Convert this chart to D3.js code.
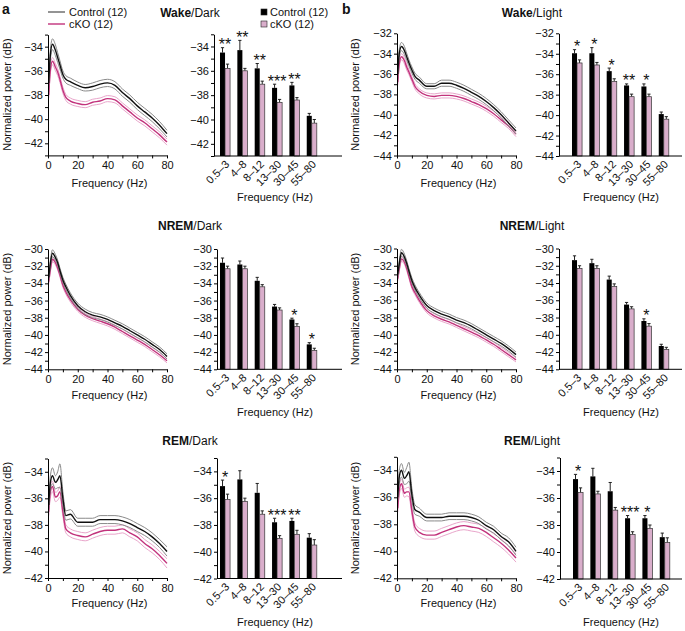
<!DOCTYPE html>
<head>
<meta charset="utf-8">
<script src="https://d3js.org/d3.v7.min.js"></script>
<style>
  body { margin:0; background:#fff; }
  text { font-family: Arial, "Liberation Sans", sans-serif; fill:#111; }
</style>
</head>
<body>
<script>

// frequency grid of the spectra (Hz)
var freqHz = [0.5, 1.5, 3, 5, 6.5, 8, 10, 12, 15, 20, 25, 30, 35, 40, 45, 50, 55, 60, 65, 70, 75, 80];

// spectra, mean and SEM (dB)
var wakeDarkCtrl    = [-37.0,-34.8,-33.8,-34.3,-34.9,-35.5,-36.3,-36.7,-36.9,-37.2,-37.4,-37.3,-37.1,-37.0,-37.2,-37.8,-38.3,-38.9,-39.4,-39.9,-40.5,-41.2];
var wakeDarkCtrlSem = [0.3,0.4,0.45,0.45,0.4,0.35,0.3,0.3,0.3,0.27,0.27,0.3,0.3,0.3,0.3,0.3,0.3,0.3,0.3,0.3,0.3,0.28];
var wakeDarkCko     = [-38.0,-36.0,-35.2,-35.7,-36.1,-36.7,-37.6,-38.2,-38.5,-38.7,-38.8,-38.6,-38.5,-38.3,-38.4,-38.9,-39.4,-39.9,-40.3,-40.8,-41.3,-41.9];
var wakeDarkCkoSem  = [0.25,0.3,0.3,0.3,0.28,0.25,0.25,0.25,0.25,0.25,0.25,0.25,0.25,0.25,0.25,0.25,0.25,0.25,0.25,0.25,0.25,0.25];

var wakeLightCtrl    = [-36.0,-34.0,-33.3,-33.7,-34.3,-34.9,-35.6,-36.2,-36.6,-37.2,-37.2,-36.9,-36.9,-37.1,-37.4,-37.8,-38.2,-38.7,-39.3,-40.0,-40.8,-41.6];
var wakeLightCtrlSem = [0.3,0.4,0.4,0.4,0.35,0.3,0.3,0.3,0.3,0.25,0.25,0.3,0.3,0.3,0.3,0.3,0.3,0.3,0.3,0.3,0.3,0.3];
var wakeLightCko     = [-36.8,-35.0,-34.3,-34.7,-35.3,-35.8,-36.5,-37.2,-37.7,-38.1,-38.2,-38.1,-38.1,-38.2,-38.4,-38.7,-39.0,-39.4,-39.9,-40.5,-41.1,-41.9];
var wakeLightCkoSem  = [0.3,0.3,0.3,0.3,0.3,0.25,0.25,0.25,0.25,0.25,0.25,0.25,0.25,0.25,0.25,0.25,0.25,0.25,0.25,0.25,0.25,0.25];

var nremDarkCtrl    = [-33.3,-31.8,-30.5,-31.0,-31.6,-32.5,-33.6,-34.4,-35.4,-36.6,-37.3,-37.7,-37.9,-38.2,-38.6,-39.0,-39.5,-40.0,-40.5,-41.1,-41.7,-42.5];
var nremDarkCtrlSem = [0.3,0.35,0.4,0.35,0.3,0.3,0.3,0.3,0.3,0.3,0.3,0.3,0.3,0.3,0.3,0.3,0.3,0.3,0.3,0.3,0.3,0.3];
var nremDarkCko     = [-33.8,-32.5,-31.2,-31.6,-32.2,-33.0,-34.2,-35.0,-35.9,-37.0,-37.7,-38.1,-38.4,-38.7,-39.1,-39.6,-40.1,-40.6,-41.1,-41.7,-42.3,-43.0];
var nremDarkCkoSem  = [0.25,0.25,0.3,0.25,0.25,0.25,0.25,0.25,0.25,0.25,0.25,0.25,0.25,0.25,0.25,0.25,0.25,0.25,0.25,0.25,0.25,0.25];

var nremLightCtrl    = [-33.0,-31.8,-30.5,-31.0,-31.7,-32.6,-33.7,-34.5,-35.4,-36.6,-37.2,-37.6,-37.9,-38.3,-38.6,-39.0,-39.5,-40.0,-40.5,-41.0,-41.6,-42.3];
var nremLightCtrlSem = [0.3,0.35,0.4,0.35,0.3,0.3,0.3,0.3,0.3,0.3,0.3,0.3,0.3,0.3,0.3,0.3,0.3,0.3,0.3,0.3,0.3,0.3];
var nremLightCko     = [-33.5,-32.4,-31.2,-31.6,-32.3,-33.2,-34.4,-35.1,-36.0,-37.2,-37.8,-38.2,-38.5,-38.9,-39.3,-39.7,-40.1,-40.6,-41.1,-41.7,-42.3,-42.9];
var nremLightCkoSem  = [0.25,0.25,0.3,0.25,0.25,0.25,0.25,0.25,0.25,0.25,0.25,0.25,0.25,0.25,0.25,0.25,0.25,0.25,0.25,0.25,0.25,0.25];

var remDarkCtrl    = [-36.5,-34.9,-34.3,-34.8,-34.6,-34.3,-36.0,-37.3,-37.2,-37.8,-37.8,-37.8,-37.6,-37.6,-37.6,-37.7,-37.9,-38.2,-38.5,-38.9,-39.4,-40.0];
var remDarkCtrlSem = [0.3,0.5,0.6,0.5,0.6,0.9,0.5,0.35,0.35,0.3,0.3,0.3,0.3,0.3,0.3,0.3,0.3,0.3,0.3,0.3,0.3,0.35];
var remDarkCko     = [-37.0,-35.6,-35.1,-35.9,-35.8,-35.5,-37.0,-38.3,-38.6,-38.8,-38.9,-38.7,-38.5,-38.4,-38.4,-38.3,-38.6,-38.9,-39.4,-39.8,-40.3,-40.9];
var remDarkCkoSem  = [0.3,0.4,0.4,0.35,0.35,0.4,0.35,0.3,0.3,0.3,0.3,0.3,0.3,0.3,0.3,0.3,0.3,0.3,0.3,0.3,0.3,0.35];

var remLightCtrl    = [-36.0,-34.5,-34.0,-34.6,-34.4,-34.1,-35.8,-36.9,-37.1,-37.5,-37.5,-37.5,-37.4,-37.4,-37.4,-37.5,-37.7,-38.1,-38.4,-38.9,-39.3,-40.0];
var remLightCtrlSem = [0.3,0.5,0.5,0.45,0.6,0.7,0.45,0.35,0.3,0.25,0.25,0.25,0.25,0.25,0.25,0.25,0.25,0.25,0.25,0.25,0.3,0.3];
var remLightCko     = [-36.8,-35.5,-35.0,-35.7,-35.6,-35.6,-37.0,-38.2,-38.6,-38.8,-38.8,-38.6,-38.4,-38.2,-38.1,-38.2,-38.3,-38.6,-39.0,-39.4,-39.9,-40.5];
var remLightCkoSem  = [0.3,0.35,0.35,0.3,0.3,0.35,0.3,0.3,0.3,0.3,0.3,0.3,0.3,0.3,0.3,0.3,0.3,0.3,0.3,0.3,0.3,0.3];

// band averages (dB), SEM and significance
var bandLabels = ["0.5\u20133", "4\u20138", "8\u201312", "13\u201330", "30\u201345", "55\u201380"];

var wakeDarkBarCtrl = [-34.5,-34.3,-35.8,-37.4,-37.2,-39.7], wakeDarkBarCtrlSem = [0.4,0.8,0.4,0.3,0.25,0.2];
var wakeDarkBarCko  = [-35.8,-36.0,-37.1,-38.6,-38.4,-40.3], wakeDarkBarCkoSem  = [0.35,0.2,0.25,0.25,0.2,0.3];
var wakeDarkStars   = ["**","**","**","***","**",""];

var wakeLightBarCtrl = [-33.95,-33.95,-35.7,-37.1,-37.2,-39.9], wakeLightBarCtrlSem = [0.35,0.55,0.3,0.15,0.25,0.2];
var wakeLightBarCko  = [-34.9,-35.1,-36.7,-38.2,-38.2,-40.4],   wakeLightBarCkoSem  = [0.3,0.25,0.25,0.25,0.25,0.25];
var wakeLightStars   = ["*","*","*","**","*",""];

var nremDarkBarCtrl = [-31.6,-31.8,-33.7,-36.7,-38.2,-41.1], nremDarkBarCtrlSem = [0.55,0.4,0.4,0.25,0.15,0.2];
var nremDarkBarCko  = [-32.3,-32.3,-34.4,-37.1,-39.0,-41.8], nremDarkBarCkoSem  = [0.3,0.3,0.25,0.25,0.3,0.25];
var nremDarkStars   = ["","","","","*","*"];

var nremLightBarCtrl = [-31.35,-31.7,-33.6,-36.5,-38.4,-41.3], nremLightBarCtrlSem = [0.5,0.45,0.4,0.25,0.25,0.2];
var nremLightBarCko  = [-32.3,-32.3,-34.4,-37.0,-39.0,-41.7],  nremLightBarCkoSem  = [0.3,0.3,0.3,0.25,0.3,0.25];
var nremLightStars   = ["","","","","*",""];

var remDarkBarCtrl = [-35.1,-34.6,-35.6,-37.8,-37.7,-38.95], remDarkBarCtrlSem = [0.45,0.65,0.7,0.3,0.2,0.3];
var remDarkBarCko  = [-36.1,-36.25,-37.2,-39.0,-38.7,-39.5], remDarkBarCkoSem  = [0.4,0.25,0.25,0.2,0.3,0.4];
var remDarkStars   = ["*","","","***","**",""];

var remLightBarCtrl = [-34.6,-34.4,-35.5,-37.5,-37.5,-38.9],  remLightBarCtrlSem = [0.35,0.6,0.65,0.2,0.2,0.3];
var remLightBarCko  = [-35.6,-35.7,-36.9,-38.7,-38.25,-39.3], remLightBarCkoSem  = [0.35,0.2,0.2,0.2,0.25,0.35];
var remLightStars   = ["*","","","***","*",""];

var W = 685, H = 631;
var svg = d3.select("body").append("svg").attr("width", W).attr("height", H);

var fmt = d3.format("d");
var ctrlColor = "#111", ctrlSemColor = "#8a8a8a", ckoColor = "#c2327c", ckoSemColor = "#e9a6cb";
var barCko = "#d9aecb";

function styleAxis(sel) {
  sel.selectAll("path").attr("stroke", "#000").attr("stroke-width", 1);
  sel.selectAll("line").attr("stroke", "#000");
  sel.selectAll("text").attr("font-size", 11).attr("fill", "#222");
}

function yAxisLabel(xPos, yCenter) {
  svg.append("text")
    .attr("transform", "translate(" + xPos + "," + yCenter + ") rotate(-90)")
    .attr("text-anchor", "middle").attr("font-size", 11)
    .text("Normalized power (dB)");
}

function drawLine(c) {
  var x = d3.scaleLinear().domain([0, 80]).range([c.x0, c.x1]);
  var y = d3.scaleLinear().domain(c.dom).range([c.yBot, c.yTop]);
  var g = svg.append("g");

  var line = d3.line()
    .x(function(d, i) { return x(freqHz[i]); })
    .y(function(d) { return y(d); })
    .curve(d3.curveMonotoneX);

  function series(mean, sem, col, semCol, w) {
    var up = mean.map(function(v, i) { return v + sem[i]; });
    var lo = mean.map(function(v, i) { return v - sem[i]; });
    g.append("path").datum(up).attr("d", line).attr("fill", "none").attr("stroke", semCol).attr("stroke-width", 1);
    g.append("path").datum(lo).attr("d", line).attr("fill", "none").attr("stroke", semCol).attr("stroke-width", 1);
    g.append("path").datum(mean).attr("d", line).attr("fill", "none").attr("stroke", col).attr("stroke-width", w);
  }
  series(c.cko, c.ckoSem, ckoColor, ckoSemColor, 1.4);
  series(c.ctrl, c.ctrlSem, ctrlColor, ctrlSemColor, 1.4);

  g.append("g").attr("transform", "translate(" + c.x0 + ",0)")
    .call(d3.axisLeft(y).tickValues(d3.range(c.dom[0], c.dom[1] + 1))
      .tickFormat(function(d) { return d % 2 === 0 ? fmt(d) : ""; })
      .tickSize(3).tickSizeOuter(0).tickPadding(2))
    .call(styleAxis);

  g.append("g").attr("transform", "translate(0," + c.yBot + ")")
    .call(d3.axisBottom(x).tickValues(d3.range(0, 81, 10))
      .tickFormat(function(d) { return d % 20 === 0 ? d : ""; })
      .tickSize(3).tickSizeOuter(0).tickPadding(3))
    .call(styleAxis);

  g.append("text").attr("x", (c.x0 + c.x1) / 2 + 2).attr("y", c.labelY)
    .attr("text-anchor", "middle").attr("font-size", 11).text("Frequency (Hz)");
}

function drawBars(c) {
  var y = d3.scaleLinear().domain(c.dom).range([c.yBot, c.yTop]);
  var step = 17.35, pad = 0.42;
  var xb = d3.scaleBand().domain(bandLabels)
    .range([c.bx0, c.bx0 + step * (bandLabels.length - pad)])
    .paddingInner(pad).paddingOuter(0);
  var xi = d3.scaleBand().domain(["ctrl", "cko"]).range([0, xb.bandwidth()]);
  var g = svg.append("g");

  var rows = bandLabels.map(function(b, i) {
    return { band: b, ctrl: c.ctrl[i], ctrlSem: c.ctrlSem[i], cko: c.cko[i], ckoSem: c.ckoSem[i], star: c.stars[i] };
  });

  ["ctrl", "cko"].forEach(function(k) {
    var semKey = k + "Sem";
    g.selectAll(".err-" + k).data(rows).enter().append("line")
      .attr("x1", function(d) { return xb(d.band) + xi(k) + xi.bandwidth() / 2; })
      .attr("x2", function(d) { return xb(d.band) + xi(k) + xi.bandwidth() / 2; })
      .attr("y1", function(d) { return y(d[k]); })
      .attr("y2", function(d) { return y(d[k] + d[semKey]); })
      .attr("stroke", "#222").attr("stroke-width", 1);
    g.selectAll(".cap-" + k).data(rows).enter().append("line")
      .attr("x1", function(d) { return xb(d.band) + xi(k) + xi.bandwidth() / 2 - 1.6; })
      .attr("x2", function(d) { return xb(d.band) + xi(k) + xi.bandwidth() / 2 + 1.6; })
      .attr("y1", function(d) { return y(d[k] + d[semKey]); })
      .attr("y2", function(d) { return y(d[k] + d[semKey]); })
      .attr("stroke", "#222").attr("stroke-width", 1);
    g.selectAll(".bar-" + k).data(rows).enter().append("rect")
      .attr("x", function(d) { return xb(d.band) + xi(k); })
      .attr("y", function(d) { return y(d[k]); })
      .attr("width", xi.bandwidth())
      .attr("height", function(d) { return c.yBot - y(d[k]); })
      .attr("fill", k === "ctrl" ? "#000" : barCko)
      .attr("stroke", k === "ctrl" ? "#000" : "#333")
      .attr("stroke-width", k === "ctrl" ? 0 : 0.7);
  });

  g.selectAll(".star").data(rows).enter().append("text")
    .attr("x", function(d) { return xb(d.band) + xb.bandwidth() / 2; })
    .attr("y", function(d) { return Math.min(y(d.ctrl + d.ctrlSem), y(d.cko + d.ckoSem)) + 2.5; })
    .attr("text-anchor", "middle").attr("font-size", 16)
    .text(function(d) { return d.star; });

  g.append("g").attr("transform", "translate(" + c.ax + ",0)")
    .call(d3.axisLeft(y).tickValues(d3.range(c.dom[0], c.dom[1] + 1))
      .tickFormat(function(d) { return d % 2 === 0 ? fmt(d) : ""; })
      .tickSize(3).tickSizeOuter(0).tickPadding(2))
    .call(styleAxis);

  g.append("line").attr("x1", c.ax).attr("x2", c.axEnd).attr("y1", c.yBot).attr("y2", c.yBot)
    .attr("stroke", "#000").attr("stroke-width", 1);

  g.selectAll(".xlab").data(bandLabels).enter().append("text")
    .attr("transform", function(d) {
      return "translate(" + (xb(d) + xb.bandwidth() / 2 + 5) + "," + (c.yBot + 9) + ") rotate(-45)";
    })
    .attr("text-anchor", "end").attr("font-size", 11).text(function(d) { return d; });

  g.append("text").attr("x", c.labelX).attr("y", c.labelY)
    .attr("text-anchor", "middle").attr("font-size", 11).text("Frequency (Hz)");
}

function title(x, yb, bold, rest) {
  var t = svg.append("text").attr("x", x).attr("y", yb).attr("text-anchor", "middle").attr("font-size", 12);
  t.append("tspan").attr("font-weight", "bold").text(bold);
  t.append("tspan").text(rest);
}

// ---- row geometry ----
var aLine = [48, 167], bLine = [397, 516];

drawLine({ x0: aLine[0], x1: aLine[1], dom: [-43, -33], yBot: 155.4, yTop: 34.6, labelY: 187,
  ctrl: wakeDarkCtrl, ctrlSem: wakeDarkCtrlSem, cko: wakeDarkCko, ckoSem: wakeDarkCkoSem });
drawLine({ x0: bLine[0], x1: bLine[1], dom: [-44, -32], yBot: 155.5, yTop: 33.3, labelY: 187,
  ctrl: wakeLightCtrl, ctrlSem: wakeLightCtrlSem, cko: wakeLightCko, ckoSem: wakeLightCkoSem });
drawLine({ x0: aLine[0], x1: aLine[1], dom: [-44, -30], yBot: 369.3, yTop: 249, labelY: 399,
  ctrl: nremDarkCtrl, ctrlSem: nremDarkCtrlSem, cko: nremDarkCko, ckoSem: nremDarkCkoSem });
drawLine({ x0: bLine[0], x1: bLine[1], dom: [-44, -30], yBot: 369.3, yTop: 248.5, labelY: 399,
  ctrl: nremLightCtrl, ctrlSem: nremLightCtrlSem, cko: nremLightCko, ckoSem: nremLightCkoSem });
drawLine({ x0: aLine[0], x1: aLine[1], dom: [-42, -33], yBot: 578, yTop: 458.5, labelY: 607,
  ctrl: remDarkCtrl, ctrlSem: remDarkCtrlSem, cko: remDarkCko, ckoSem: remDarkCkoSem });
drawLine({ x0: bLine[0], x1: bLine[1], dom: [-42, -33], yBot: 578.3, yTop: 456.8, labelY: 607,
  ctrl: remLightCtrl, ctrlSem: remLightCtrlSem, cko: remLightCko, ckoSem: remLightCkoSem });

drawBars({ ax: 214, axEnd: 342, bx0: 220, dom: [-43, -33], yBot: 156, yTop: 34.3, labelX: 275, labelY: 201,
  ctrl: wakeDarkBarCtrl, ctrlSem: wakeDarkBarCtrlSem, cko: wakeDarkBarCko, ckoSem: wakeDarkBarCkoSem, stars: wakeDarkStars });
drawBars({ ax: 559, axEnd: 682, bx0: 572, dom: [-44, -32], yBot: 156, yTop: 33.3, labelX: 621, labelY: 201,
  ctrl: wakeLightBarCtrl, ctrlSem: wakeLightBarCtrlSem, cko: wakeLightBarCko, ckoSem: wakeLightBarCkoSem, stars: wakeLightStars });
drawBars({ ax: 217, axEnd: 342, bx0: 220, dom: [-44, -30], yBot: 369.3, yTop: 249, labelX: 275, labelY: 416,
  ctrl: nremDarkBarCtrl, ctrlSem: nremDarkBarCtrlSem, cko: nremDarkBarCko, ckoSem: nremDarkBarCkoSem, stars: nremDarkStars });
drawBars({ ax: 559, axEnd: 682, bx0: 572, dom: [-44, -30], yBot: 369.3, yTop: 248.5, labelX: 621, labelY: 416,
  ctrl: nremLightBarCtrl, ctrlSem: nremLightBarCtrlSem, cko: nremLightBarCko, ckoSem: nremLightBarCkoSem, stars: nremLightStars });
drawBars({ ax: 217, axEnd: 342, bx0: 220, dom: [-42, -33], yBot: 578.5, yTop: 458, labelX: 275, labelY: 626,
  ctrl: remDarkBarCtrl, ctrlSem: remDarkBarCtrlSem, cko: remDarkBarCko, ckoSem: remDarkBarCkoSem, stars: remDarkStars });
drawBars({ ax: 560, axEnd: 682, bx0: 573, dom: [-42, -33], yBot: 579, yTop: 457.5, labelX: 621, labelY: 626,
  ctrl: remLightBarCtrl, ctrlSem: remLightBarCtrlSem, cko: remLightBarCko, ckoSem: remLightBarCkoSem, stars: remLightStars });

// y labels
[94.5, 309, 518].forEach(function(cy) { yAxisLabel(10.5, cy); yAxisLabel(358.5, cy); });

// titles
title(190, 16.5, "Wake", "/Dark");  title(532, 16.5, "Wake", "/Light");
title(190, 230, "NREM", "/Dark");   title(532, 230, "NREM", "/Light");
title(190, 445, "REM", "/Dark");    title(532, 445, "REM", "/Light");

// panel letters
svg.append("text").attr("x", 2).attr("y", 14).attr("font-size", 14).attr("font-weight", "bold").text("a");
svg.append("text").attr("x", 342).attr("y", 14).attr("font-size", 14).attr("font-weight", "bold").text("b");

// line legend
var legLine = [{ name: "Control (12)", col: "#666" }, { name: "cKO (12)", col: ckoColor }];
legLine.forEach(function(d, i) {
  svg.append("line").attr("x1", 48).attr("x2", 65).attr("y1", 12 + i * 12).attr("y2", 12 + i * 12)
    .attr("stroke", d.col).attr("stroke-width", 1.4);
  svg.append("text").attr("x", 69).attr("y", 16 + i * 12).attr("font-size", 11).text(d.name);
});

// bar legend
var legBar = [{ name: "Control (12)", col: "#000" }, { name: "cKO (12)", col: barCko }];
legBar.forEach(function(d, i) {
  svg.append("rect").attr("x", 261).attr("y", 9 + i * 12).attr("width", 6).attr("height", 6)
    .attr("fill", d.col).attr("stroke", "#222").attr("stroke-width", 0.6);
  svg.append("text").attr("x", 270).attr("y", 16 + i * 12).attr("font-size", 11).text(d.name);
});

</script>
</body>
